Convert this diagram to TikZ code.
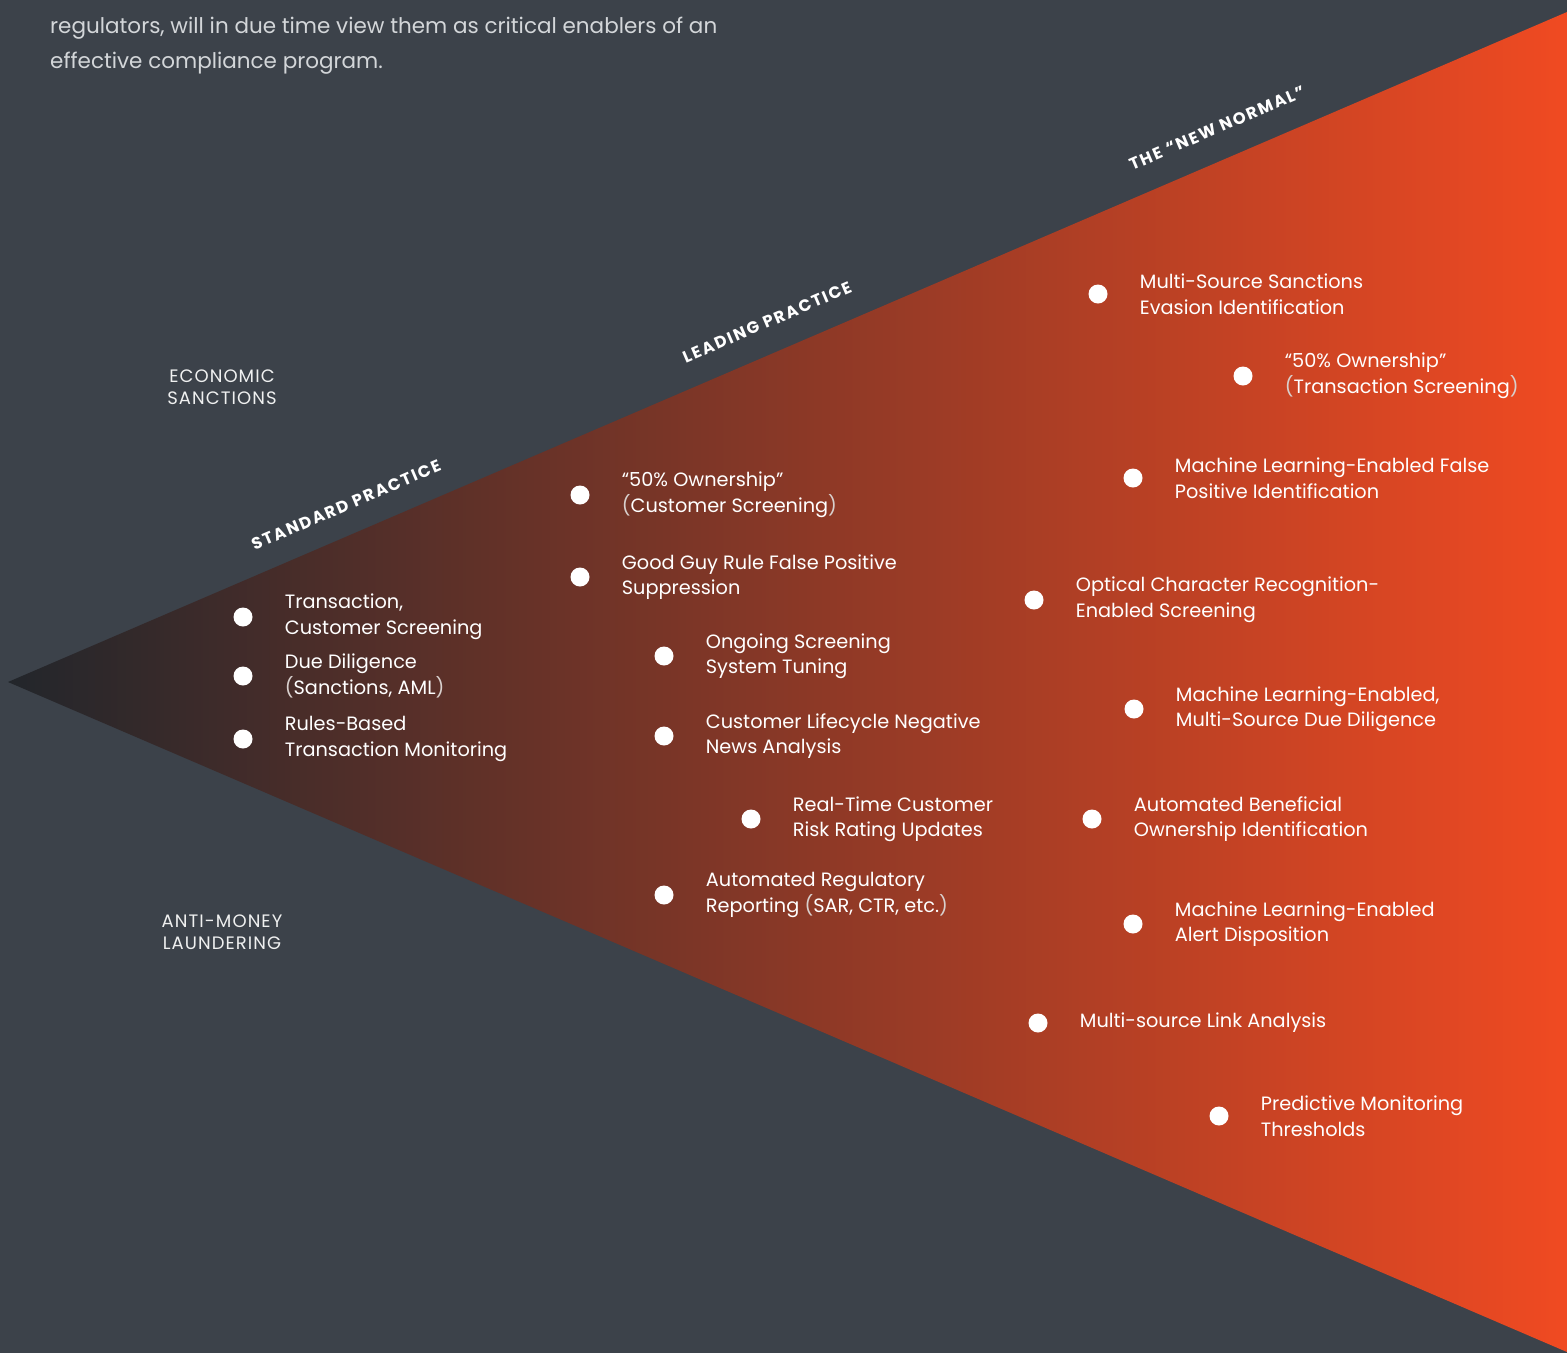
\documentclass[tikz,border=0pt]{standalone}
\usepackage{fontspec}
\setmainfont{Poppins}
\newcommand*{\entryfont}{\fontsize{19.3}{25.5}\selectfont}
\newcommand*{\copyfont}{\fontsize{21.5}{35}\selectfont}
\newcommand*{\areafont}{\fontsize{18}{21.5}\selectfont\addfontfeatures{LetterSpace=6}}
\newcommand*{\phasefont}{\fontsize{16.5}{18}\selectfont\bfseries\addfontfeatures{LetterSpace=11}}
\newcommand*{\lp}{\textcolor{paren}{(}}
\newcommand*{\rp}{\textcolor{paren}{)}}
\definecolor{slate}{HTML}{3C424A}
\definecolor{apex}{HTML}{22262B}
\definecolor{flame}{HTML}{F04A22}
\definecolor{copy}{HTML}{D3D6D9}
\definecolor{paren}{HTML}{D8D0CD}
\usetikzlibrary{positioning}
\tikzstyle{dot}=[circle, fill=white, inner sep=0pt, minimum size=19pt]
\tikzstyle{entry}=[white, inner sep=0pt, align=left, font=\entryfont]
\tikzstyle{area}=[white!92!slate, inner sep=0pt, align=center, font=\areafont]
\tikzstyle{phase}=[white, inner sep=0pt, rotate=23.2, font=\phasefont]
\tikzstyle{copytext}=[copy, inner sep=0pt, anchor=base west, font=\copyfont]

\begin{document}
\begin{tikzpicture}[x=1pt, y=-1pt]
    \useasboundingbox (0,0) rectangle (1567,1353);
    \fill [slate] (0,0) rectangle (1567,1353);
    % the wedge, dark at the tip and orange at the open end
    \coordinate (tip) at (8,682);
    \coordinate (top) at (1567,12);
    \coordinate (bot) at (1567,1352);
    \shade [left color=apex, right color=flame] (tip) -- (top) -- (bot) -- cycle;

    \node [copytext] (copy1) at (50,33) {regulators, will in due time view them as critical enablers of an};
    \node [copytext] (copy2) at (50,68) {effective compliance program.};

    \node [area] (sanctions) at (222,387) {ECONOMIC\\SANCTIONS};
    \node [area] (aml) at (222,932) {ANTI-MONEY\\LAUNDERING};

    \node [phase] (standard) at (346,505) {STANDARD PRACTICE};
    \node [phase] (leading) at (767,322) {LEADING PRACTICE};
    \node [phase] (newnormal) at (1217,128) {THE “NEW NORMAL”};

    % standard practice
    \node [dot] (s1) at (243,617) {};
    \node [entry, right=32pt of s1] (s1t) {Transaction,\\Customer Screening};
    \node [dot] (s2) at (243,676) {};
    \node [entry, right=32pt of s2] (s2t) {Due Diligence\\\lp Sanctions, AML\rp};
    \node [dot] (s3) at (243,739) {};
    \node [entry, right=32pt of s3] (s3t) {Rules-Based\\Transaction Monitoring};

    % leading practice
    \node [dot] (l1) at (580,495) {};
    \node [entry, right=32pt of l1] (l1t) {“50\% Ownership”\\\lp Customer Screening\rp};
    \node [dot] (l2) at (580,577) {};
    \node [entry, right=32pt of l2] (l2t) {Good Guy Rule False Positive\\Suppression};
    \node [dot] (l3) at (664,656) {};
    \node [entry, right=32pt of l3] (l3t) {Ongoing Screening\\System Tuning};
    \node [dot] (l4) at (664,736) {};
    \node [entry, right=32pt of l4] (l4t) {Customer Lifecycle Negative\\News Analysis};
    \node [dot] (l5) at (751,819) {};
    \node [entry, right=32pt of l5] (l5t) {Real-Time Customer\\Risk Rating Updates};
    \node [dot] (l6) at (664,895) {};
    \node [entry, right=32pt of l6] (l6t) {Automated Regulatory\\Reporting \lp SAR, CTR, etc.\rp};

    % the new normal
    \node [dot] (n1) at (1098,294) {};
    \node [entry, right=32pt of n1] (n1t) {Multi-Source Sanctions\\Evasion Identification};
    \node [dot] (n2) at (1243,376) {};
    \node [entry, right=32pt of n2] (n2t) {“50\% Ownership”\\\lp Transaction Screening\rp};
    \node [dot] (n3) at (1133,478) {};
    \node [entry, right=32pt of n3] (n3t) {Machine Learning-Enabled False\\Positive Identification};
    \node [dot] (n4) at (1034,600) {};
    \node [entry, right=32pt of n4] (n4t) {Optical Character Recognition-\\Enabled Screening};
    \node [dot] (n5) at (1134,709) {};
    \node [entry, right=32pt of n5] (n5t) {Machine Learning-Enabled,\\Multi-Source Due Diligence};
    \node [dot] (n6) at (1092,819) {};
    \node [entry, right=32pt of n6] (n6t) {Automated Beneficial\\Ownership Identification};
    \node [dot] (n7) at (1133,924) {};
    \node [entry, right=32pt of n7] (n7t) {Machine Learning-Enabled\\Alert Disposition};
    \node [dot] (n8) at (1038,1023) {};
    \node [entry, right=32pt of n8] (n8t) {Multi-source Link Analysis};
    \node [dot] (n9) at (1219,1116) {};
    \node [entry, right=32pt of n9] (n9t) {Predictive Monitoring\\Thresholds};
\end{tikzpicture}
\end{document}
